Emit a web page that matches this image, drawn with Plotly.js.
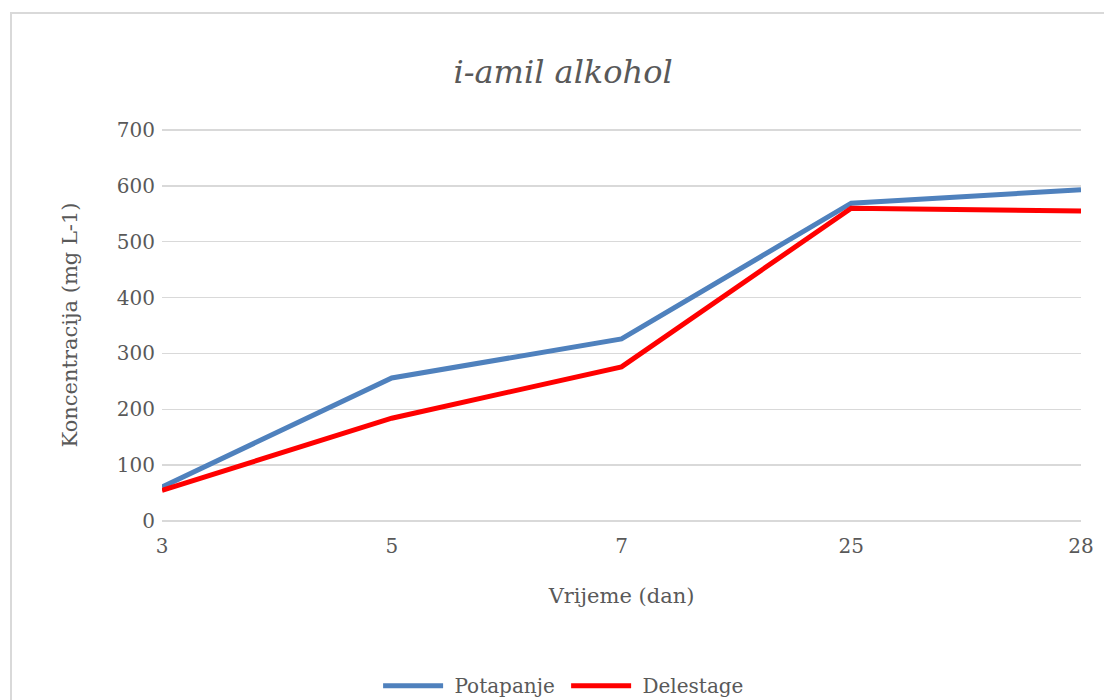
<!DOCTYPE html>
<html>
<head>
<meta charset="utf-8">
<script src="https://cdn.plot.ly/plotly-3.0.1.min.js"></script>
<style>
html,body{margin:0;padding:0;background:#fff;overflow:hidden;width:1104px;height:700px;}
#wrap{position:relative;width:1104px;height:700px;overflow:hidden;}
#frame{position:absolute;left:10px;top:12px;width:1200px;height:800px;border:2px solid #d9d9d9;pointer-events:none;z-index:5;}
#chart{position:absolute;left:0;top:0;width:1104px;height:700px;}
</style>
</head>
<body>
<div id="wrap">
<div id="chart"></div>
<div id="frame"></div>
</div>
<script>
const days = ['3', '5', '7', '25', '28'];
const potapanje = [61, 256, 326, 569, 593];
const delestage = [55, 184, 276, 560, 555];
const yTicks = [0, 100, 200, 300, 400, 500, 600, 700];

const font = 'DejaVu Serif, Liberation Serif, serif';

const traces = [
  {x: days, y: potapanje, name: '&nbsp;Potapanje&nbsp;', type: 'scatter', mode: 'lines',
   line: {color: '#4f81bd', width: 5}},
  {x: days, y: delestage, name: '&nbsp;Delestage', type: 'scatter', mode: 'lines',
   line: {color: '#ff0000', width: 5}}
];

const layout = {
  width: 1104, height: 700,
  margin: {l: 162, r: 23, t: 129, b: 179, autoexpand: false},
  paper_bgcolor: 'rgba(0,0,0,0)', plot_bgcolor: 'rgba(0,0,0,0)',
  font: {family: font, color: '#595959', size: 20},
  title: {text: '<i>i-amil alkohol</i>', x: 0.51, xanchor: 'center', y: 0.897, yanchor: 'middle',
          font: {family: font, size: 32, color: '#595959'}},
  xaxis: {
    type: 'category', range: [0, 4], showgrid: false, zeroline: false,
    showline: false, ticks: '', tickfont: {size: 20, color: '#595959'}, ticklabelstandoff: 11,
    title: {text: 'Vrijeme (dan)', font: {size: 21, color: '#595959'}, standoff: 31}
  },
  yaxis: {
    range: [0, 701.8], tickvals: yTicks, showgrid: true, gridcolor: '#d9d9d9', gridwidth: 1.5,
    zeroline: true, zerolinecolor: '#d9d9d9', zerolinewidth: 1.5, showline: false, ticks: '',
    tickfont: {size: 20, color: '#595959'}, ticklabelstandoff: 6,
    title: {text: 'Koncentracija (mg L-1)', font: {size: 21, color: '#595959'}, standoff: 33}
  },
  showlegend: true,
  legend: {orientation: 'h', x: 0.437, xanchor: 'center', y: -0.42, yanchor: 'middle',
           font: {size: 20, color: '#595959'}, itemwidth: 60}
};

Plotly.newPlot('chart', traces, layout, {displayModeBar: false, staticPlot: true});
</script>
</body>
</html>
